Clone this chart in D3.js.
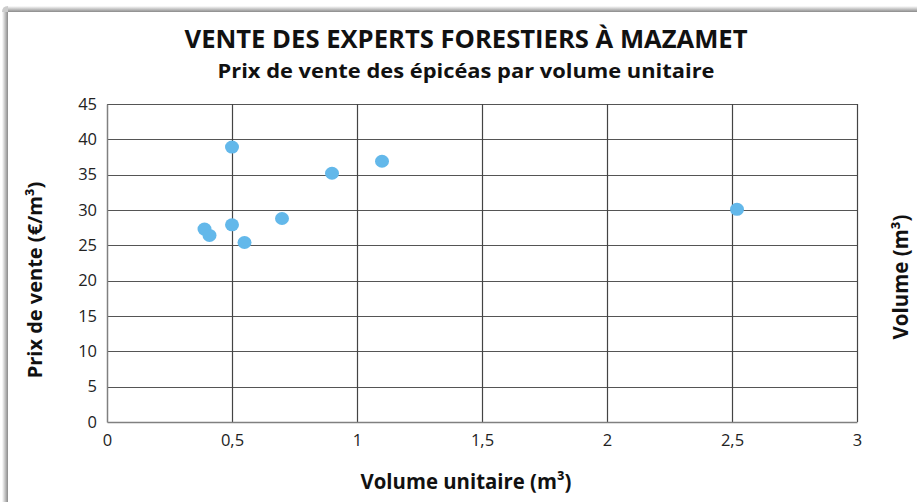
<!DOCTYPE html>
<html>
<head>
<meta charset="utf-8">
<script src="https://cdn.jsdelivr.net/npm/d3@7"></script>
<style>
  body { margin: 0; background: #fff; }
  svg text { font-family: "Open Sans", sans-serif; }
</style>
</head>
<body>
<div id="chart"></div>
<script>
// points (volume unitaire m3, prix €/m3)
const volumes = [0.50, 0.90, 1.10, 0.70, 0.50, 0.39, 0.41, 0.55, 2.52];
const prix = [38.9, 35.2, 36.9, 28.8, 27.9, 27.3, 26.4, 25.4, 30.1];
const xTicks = [0, 0.5, 1, 1.5, 2, 2.5, 3];
const yTicks = [0, 5, 10, 15, 20, 25, 30, 35, 40, 45];

const W = 917, H = 502;
const margin = { top: 104, right: 60, bottom: 80, left: 107 };
const width = 857 - margin.left;
const height = 422 - margin.top;

const svg = d3.select("#chart").append("svg")
    .attr("width", W)
    .attr("height", H);

// ombre du cadre (haut et gauche)
const defs = svg.append("defs");
const gl = defs.append("linearGradient").attr("id", "shL").attr("x1", 0).attr("x2", 1).attr("y1", 0).attr("y2", 0);
gl.append("stop").attr("offset", "0%").attr("stop-color", "#fff");
gl.append("stop").attr("offset", "100%").attr("stop-color", "#8a8a8a");
const gt = defs.append("linearGradient").attr("id", "shT").attr("x1", 0).attr("x2", 0).attr("y1", 0).attr("y2", 1);
gt.append("stop").attr("offset", "0%").attr("stop-color", "#fff");
gt.append("stop").attr("offset", "100%").attr("stop-color", "#8a8a8a");

svg.append("rect").attr("x", 2).attr("y", 12).attr("width", 6).attr("height", H - 12).attr("fill", "url(#shL)");
svg.append("rect").attr("x", 8).attr("y", 6).attr("width", W - 8).attr("height", 6).attr("fill", "url(#shT)");
svg.append("path").attr("d", "M2,12 Q2,6 8,6 L8,12 Z").attr("fill", "#ccc");

// titres
svg.append("text")
    .attr("x", 466).attr("y", 48)
    .attr("text-anchor", "middle")
    .attr("textLength", 563).attr("lengthAdjust", "spacingAndGlyphs")
    .style("font-size", "25px").style("font-weight", "bold").style("fill", "#111")
    .text("VENTE DES EXPERTS FORESTIERS À MAZAMET");

svg.append("text")
    .attr("x", 466).attr("y", 78)
    .attr("text-anchor", "middle")
    .attr("textLength", 497).attr("lengthAdjust", "spacingAndGlyphs")
    .style("font-size", "20px").style("font-weight", "bold").style("fill", "#111")
    .text("Prix de vente des épicéas par volume unitaire");

const g = svg.append("g").attr("transform", `translate(${margin.left},${margin.top})`);

const x = d3.scaleLinear().domain([0, 3]).range([0, width]);
const y = d3.scaleLinear().domain([0, 45]).range([height, 0]);

// grille
g.append("g")
    .selectAll("line")
    .data(yTicks.slice(1))
    .enter().append("line")
    .attr("x1", 0).attr("x2", width)
    .attr("y1", d => Math.round(y(d)) + 0.5).attr("y2", d => Math.round(y(d)) + 0.5)
    .attr("stroke", "#555").attr("stroke-width", 1.2);

g.append("g")
    .selectAll("line")
    .data(xTicks.slice(1))
    .enter().append("line")
    .attr("y1", 0).attr("y2", height)
    .attr("x1", d => Math.round(x(d)) + 0.5).attr("x2", d => Math.round(x(d)) + 0.5)
    .attr("stroke", "#444").attr("stroke-width", 1.2);

// axes
const fmt = d => String(d).replace(".", ",");

const xAxis = g.append("g")
    .attr("transform", `translate(0,${height})`)
    .call(d3.axisBottom(x).tickValues(xTicks).tickFormat(fmt).tickSize(0).tickPadding(12));
xAxis.select(".domain").attr("stroke", "#808080").attr("stroke-width", 1.5);
xAxis.selectAll("text").style("font-size", "16.5px").style("fill", "#222")
    .style("font-family", "'Open Sans', sans-serif");

const yAxis = g.append("g")
    .call(d3.axisLeft(y).tickValues(yTicks).tickSize(0).tickPadding(10));
yAxis.select(".domain").attr("stroke", "#808080").attr("stroke-width", 1.5);
yAxis.selectAll("text").style("font-size", "16.5px").style("fill", "#222")
    .style("font-family", "'Open Sans', sans-serif");

// points
g.selectAll("ellipse")
    .data(volumes.map((v, i) => ({ v: v, p: prix[i] })))
    .enter().append("ellipse")
    .attr("cx", d => x(d.v))
    .attr("cy", d => y(d.p))
    .attr("rx", 7)
    .attr("ry", 6.5)
    .attr("fill", "#63b8ea");

// titres des axes
svg.append("text")
    .attr("x", 466).attr("y", 489)
    .attr("text-anchor", "middle")
    .attr("textLength", 211).attr("lengthAdjust", "spacingAndGlyphs")
    .style("font-size", "21px").style("font-weight", "bold").style("fill", "#111")
    .text("Volume unitaire (m³)");

svg.append("text")
    .attr("transform", "translate(42,280) rotate(-90)")
    .attr("text-anchor", "middle")
    .style("font-size", "20px").style("font-weight", "bold").style("fill", "#111")
    .text("Prix de vente (€/m³)");

svg.append("text")
    .attr("transform", "translate(908,277) rotate(-90)")
    .attr("text-anchor", "middle")
    .style("font-size", "20.5px").style("font-weight", "bold").style("fill", "#111")
    .text("Volume (m³)");
</script>
</body>
</html>
